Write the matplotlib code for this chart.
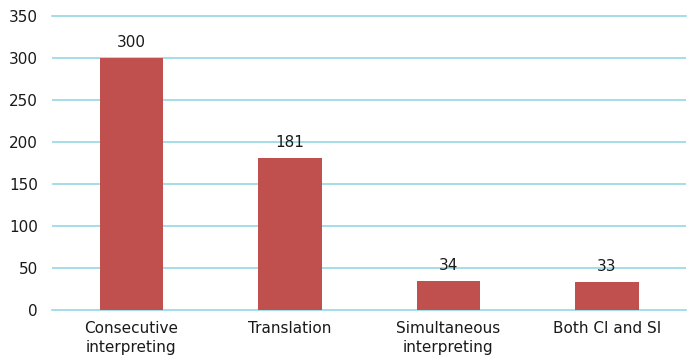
import matplotlib
matplotlib.use('Agg')
import matplotlib.pyplot as plt
import numpy as np

categories = ["Consecutive\ninterpreting", "Translation", "Simultaneous\ninterpreting", "Both CI and SI"]
counts = [300, 181, 34, 33]
yticks = [0, 50, 100, 150, 200, 250, 300, 350]

fig = plt.figure(figsize=(7, 3.63), dpi=100)
ax = fig.add_axes([0.0743, 0.146, 0.906, 0.81])

x = np.arange(len(categories))
bars = ax.bar(x, counts, width=0.40, color="#C0504D", zorder=2)
for xi, v in zip(x, counts):
    ax.annotate(str(v), (xi, v), xytext=(0, 6), textcoords="offset points",
                ha="center", va="bottom", fontsize=11, color="#1a1a1a")

ax.set_xlim(-0.5, 3.5)
ax.set_ylim(0, 350)
ax.set_yticks(yticks)
ax.set_xticks(x, categories)
for lab in ax.get_xticklabels():
    lab.set_linespacing(1.35)
ax.grid(axis="y", color="#93D8E5", linewidth=1.2, zorder=0)
ax.set_axisbelow(True)
for s in ax.spines.values():
    s.set_visible(False)
ax.tick_params(axis="both", length=0, labelsize=11, colors="#1a1a1a")
ax.tick_params(axis="y", pad=10)
ax.tick_params(axis="x", pad=8)
ax.yaxis.get_gridlines()[0].set_clip_on(False)
ax.yaxis.get_gridlines()[-1].set_clip_on(False)

fig.savefig("out.png", dpi=100)
